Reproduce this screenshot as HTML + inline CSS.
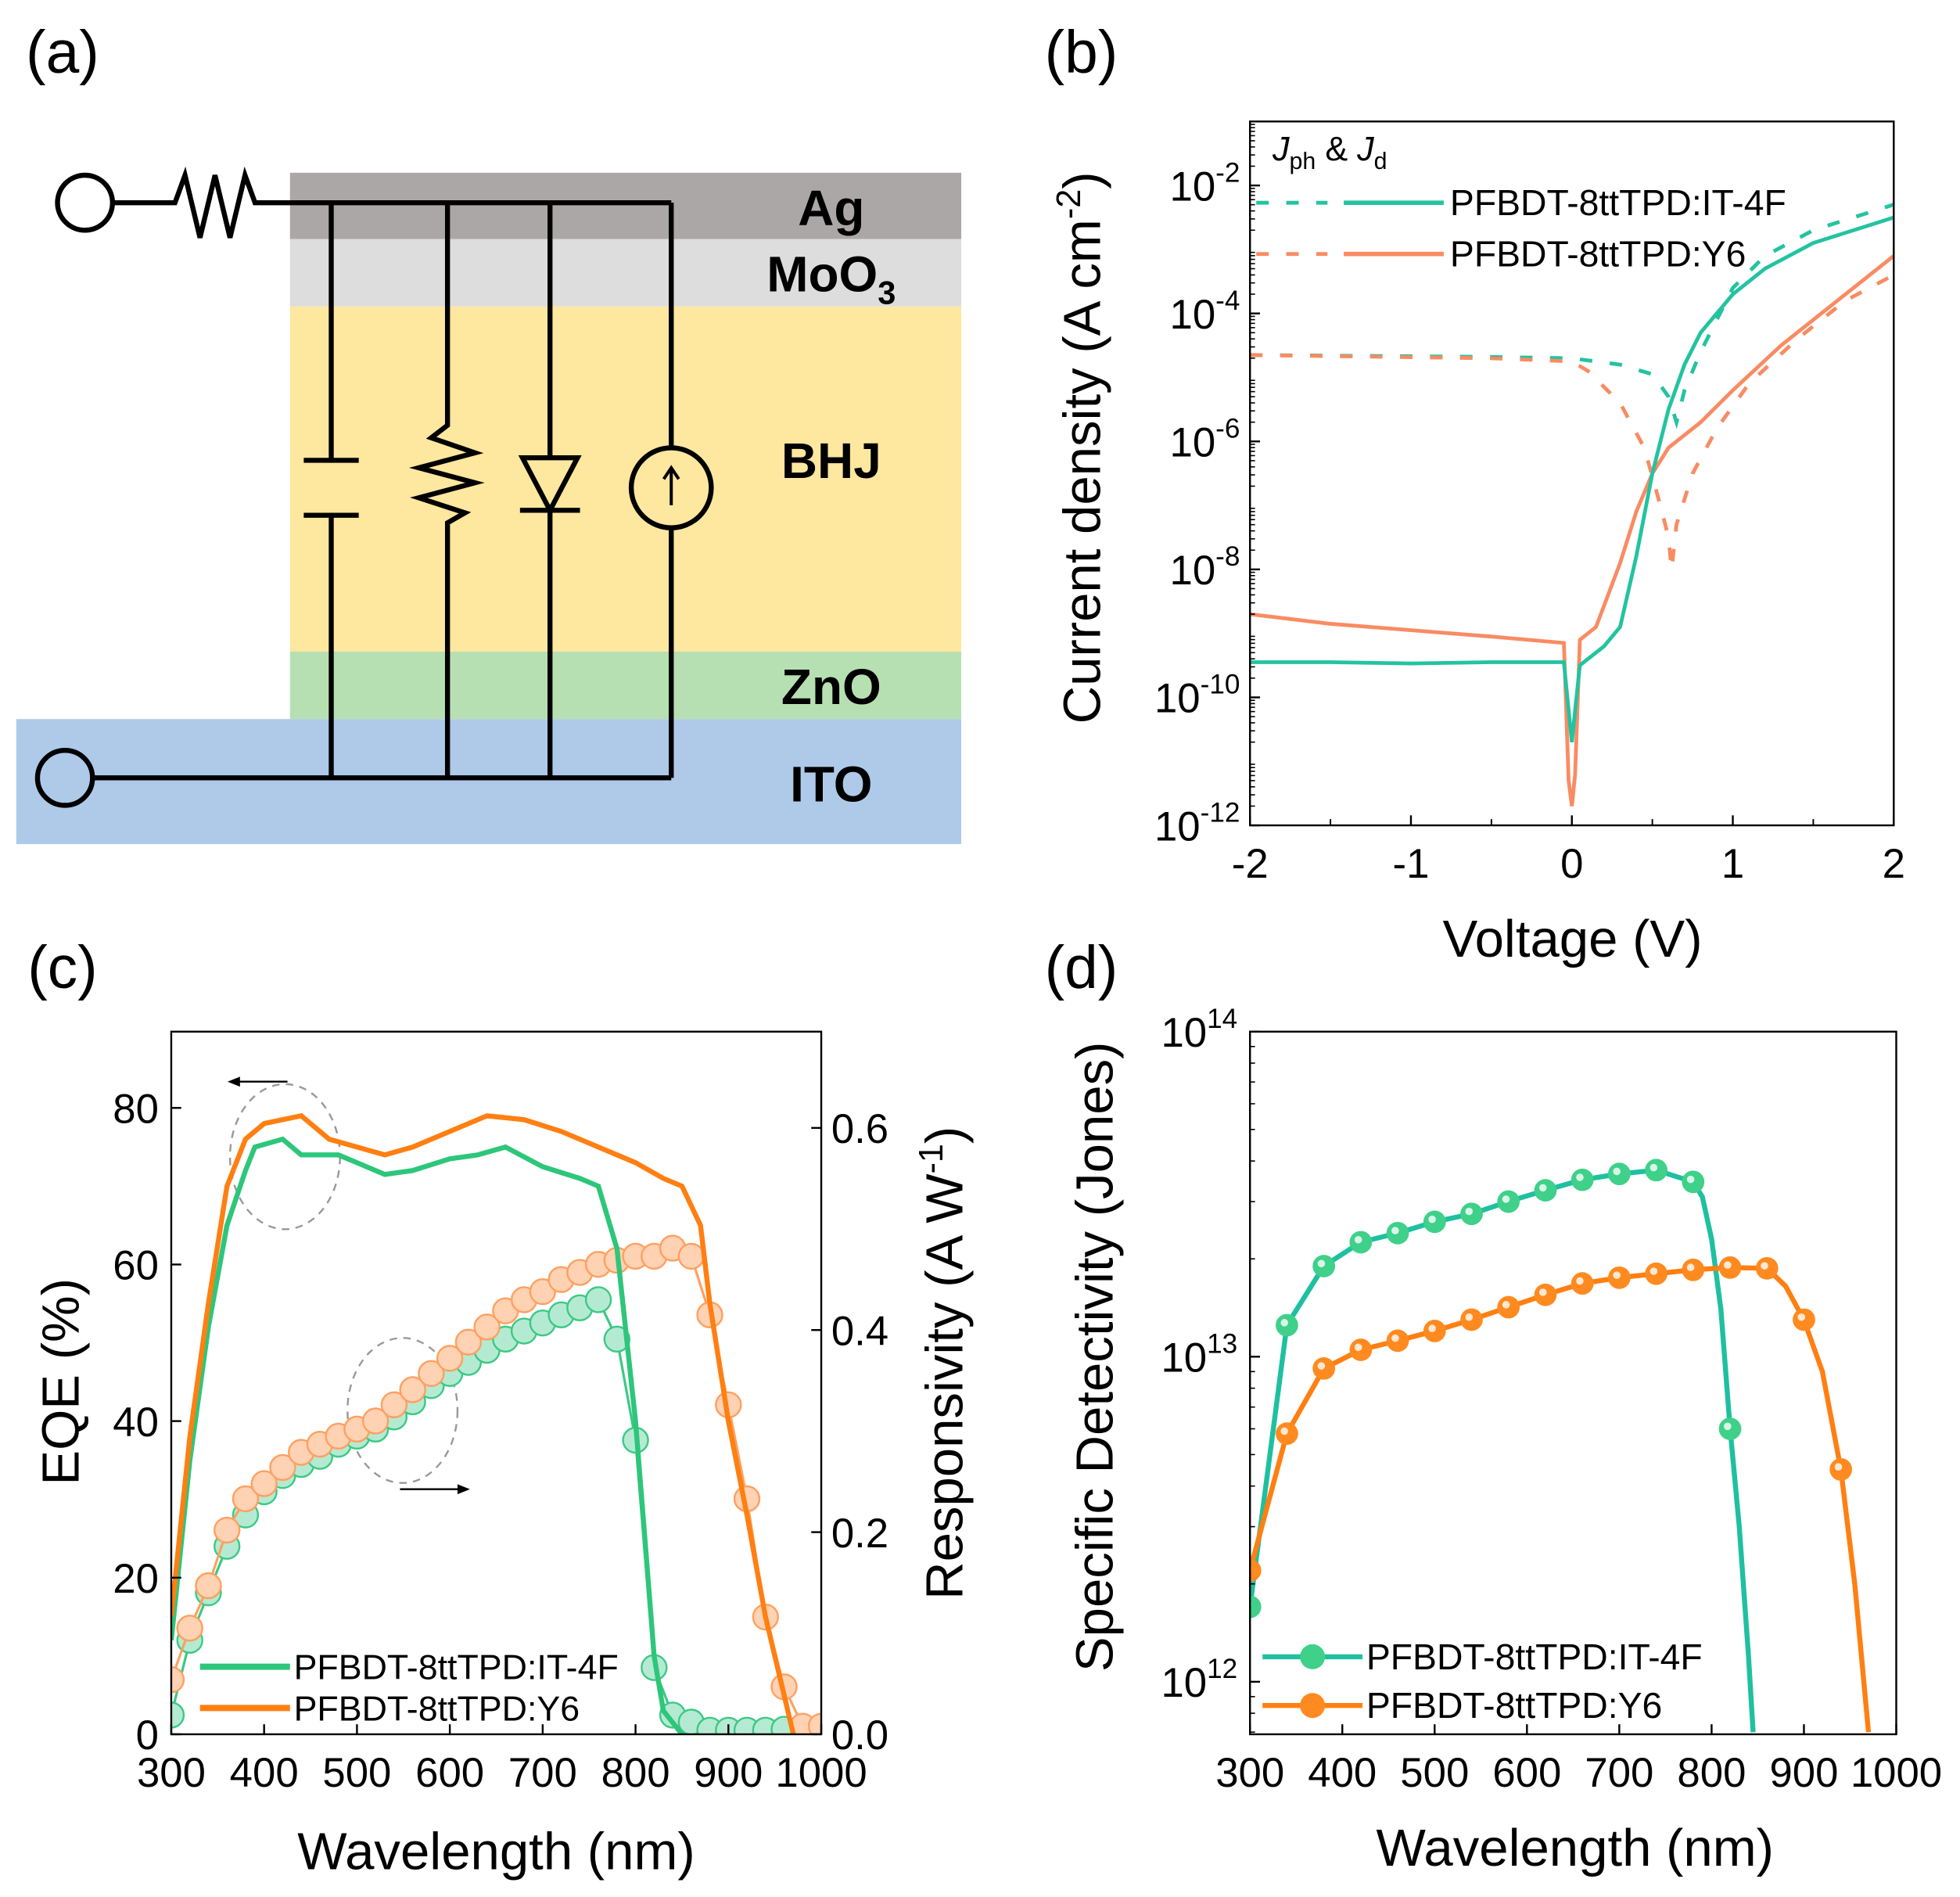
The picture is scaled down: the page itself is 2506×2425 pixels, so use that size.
<!DOCTYPE html>
<html><head><meta charset="utf-8"><style>
html,body{margin:0;padding:0;background:#fff}
svg{display:block;font-family:"Liberation Sans",Arial,sans-serif}
</style></head><body>
<svg id="fig" xmlns="http://www.w3.org/2000/svg" width="2506" height="2425" viewBox="0 0 1568 1517">
<rect width="1568" height="1517" fill="#fff"/>
<g>
<text x="50" y="58" font-size="48" text-anchor="middle">(a)</text>
<rect x="232" y="138" width="537" height="53" fill="#aca7a7"/>
<rect x="232" y="191" width="537" height="54" fill="#dddddd"/>
<rect x="232" y="245" width="537" height="276" fill="#fee79f"/>
<rect x="232" y="521" width="537" height="54" fill="#b7e0b2"/>
<rect x="13" y="575" width="756" height="100" fill="#afc9e9"/>
<g fill="none" stroke="#000" stroke-width="4">
<circle cx="68" cy="162" r="22"/>
<polyline points="90,162 140,162 148,140 160,190 172,140 184,190 196,140 204,162 537,162"/>
<circle cx="52" cy="622" r="22"/>
<line x1="74" y1="622" x2="537" y2="622"/>
<polyline points="265,162 265,368" /><polyline points="265,412 265,622"/>
<line x1="243" y1="368" x2="287" y2="368"/><line x1="243" y1="412" x2="287" y2="412"/>
<polyline points="358,162 358,340 345,350 380,362 335,374 380,386 335,398 372,410 358,418 358,622"/>
<line x1="440" y1="162" x2="440" y2="622"/>
<polygon points="418,366 462,366 440,408" fill="#fee79f"/><line x1="416" y1="408" x2="464" y2="408"/>
<line x1="537" y1="162" x2="537" y2="622"/>
<circle cx="537" cy="390" r="32" fill="#fee79f"/>
<line x1="537" y1="404" x2="537" y2="376" stroke-width="2.5"/><polyline points="531,383 537,374 543,383" stroke-width="2.5"/>
</g>
<g font-size="40" font-weight="bold" text-anchor="middle">
<text x="665" y="180">Ag</text>
<text x="665" y="233">MoO<tspan font-size="26" dy="10">3</tspan></text>
<text x="665" y="382">BHJ</text>
<text x="665" y="563">ZnO</text>
<text x="665" y="641">ITO</text>
</g>
</g>
<g id="pb"></g>
<g id="pc"></g>
<g id="pd"></g>
</svg>
<script>
const bV_it_dark=[-2,-1.5,-1,-0.5,-0.05,-0.02,0,0.02,0.05,0.2,0.3,0.4,0.5,0.6,0.7,0.8,1.0,1.2,1.5,2];
const bJ_it_dark=[-9.45,-9.45,-9.47,-9.45,-9.45,-10.2,-10.7,-10.2,-9.5,-9.2,-8.9,-7.8,-6.5,-5.5,-4.8,-4.3,-3.7,-3.3,-2.9,-2.5];
const bV_y6_dark=[-2,-1.5,-1,-0.5,-0.05,-0.02,0,0.02,0.05,0.15,0.3,0.4,0.5,0.6,0.8,1.0,1.3,1.6,2];
const bJ_y6_dark=[-8.7,-8.85,-8.95,-9.05,-9.15,-11.3,-11.7,-11.2,-9.1,-8.9,-7.9,-7.1,-6.5,-6.1,-5.7,-5.2,-4.5,-3.9,-3.1];
const bV_it_ph=[-2,-0.5,0,0.3,0.5,0.6,0.65,0.7,0.8,1.0,1.2,1.5,2];
const bJ_it_ph=[-4.65,-4.68,-4.7,-4.8,-4.95,-5.3,-5.7,-5.2,-4.6,-3.6,-3.1,-2.7,-2.3];
const bV_y6_ph=[-2,-0.5,0,0.1,0.3,0.45,0.55,0.6,0.62,0.65,0.75,0.9,1.1,1.4,1.7,2];
const bJ_y6_ph=[-4.65,-4.7,-4.75,-4.9,-5.4,-6.1,-7.0,-7.5,-8.0,-7.3,-6.5,-5.8,-5.1,-4.4,-3.8,-3.4];
const bXTicks=[-2,-1,0,1,2];
const bYTicks=[-12,-10,-8,-6,-4,-2];
const cWl_it=[300,320,340,360,380,390,420,440,480,500,530,560,600,630,660,700,740,760,780,800,810,820,830,850];
const cEqe_it=[12,35,52,65,72,75,76,74,74,73,71.5,72,73.5,74,75,72.5,71,70,62,40,25,10,3,0];
const cWl_y6=[300,320,340,360,380,400,440,470,500,530,560,600,640,680,720,760,800,830,850,870,880,900,920,940,960,970];
const cEqe_y6=[15,38,55,70,76,78,79,76,75,74,75,77,79,78.5,77,75,73,71,70,65,55,40,28,15,5,0];
const cRWl_it=[300,320,340,360,380,400,420,440,460,480,500,520,540,560,580,600,620,640,660,680,700,720,740,760,780,800,820,840,860,880,900,920,940,960];
const cResp_it=[0.019,0.093,0.14,0.186,0.217,0.24,0.256,0.267,0.275,0.287,0.295,0.302,0.314,0.329,0.345,0.357,0.368,0.38,0.391,0.399,0.407,0.415,0.422,0.43,0.391,0.291,0.066,0.019,0.012,0.004,0.004,0.004,0.004,0.005];
const cRWl_y6=[300,320,340,360,380,400,420,440,460,480,500,520,540,560,580,600,620,640,660,680,700,720,740,760,780,800,820,840,860,880,900,920,940,960,980,1000];
const cResp_y6=[0.054,0.105,0.147,0.202,0.233,0.248,0.264,0.279,0.287,0.295,0.302,0.31,0.326,0.341,0.357,0.372,0.388,0.403,0.419,0.43,0.438,0.45,0.457,0.465,0.469,0.473,0.473,0.481,0.473,0.415,0.326,0.233,0.116,0.047,0.008,0.008];
const cXTicks=[300,400,500,600,700,800,900,1000];
const cYTicks=[0,20,40,60,80];
const cRTicks=[0.0,0.2,0.4,0.6];
const dWl_it=[300,340,380,420,460,500,540,580,620,660,700,740,780,790,800,810,820,830,840,845];
const dD_it=[0.17,1.25,1.9,2.25,2.4,2.6,2.75,3.0,3.25,3.5,3.65,3.75,3.45,3.1,2.3,1.4,0.6,0.3,0.12,0.07];
const dMk_it=[300,340,380,420,460,500,540,580,620,660,700,740,780,820];
const dMkD_it=[0.17,1.25,1.9,2.25,2.4,2.6,2.75,3.0,3.25,3.5,3.65,3.75,3.45,0.6];
const dWl_y6=[300,340,380,420,460,500,540,580,620,660,700,740,780,820,860,880,900,920,940,955,970];
const dD_y6=[0.22,0.58,0.92,1.05,1.12,1.2,1.3,1.42,1.55,1.68,1.75,1.8,1.85,1.88,1.87,1.65,1.3,0.9,0.45,0.2,0.07];
const dMk_y6=[300,340,380,420,460,500,540,580,620,660,700,740,780,820,860,900,940];
const dMkD_y6=[0.22,0.58,0.92,1.05,1.12,1.2,1.3,1.42,1.55,1.68,1.75,1.8,1.85,1.88,1.87,1.3,0.45];
const dXTicks=[300,400,500,600,700,800,900,1000];
const dYTicks=[12,13,14];

const TF=33, AF=42;
const NS="http://www.w3.org/2000/svg";
function mk(parent,tag,attrs){const e=document.createElementNS(NS,tag);for(const k in attrs)e.setAttribute(k,attrs[k]);parent.appendChild(e);return e;}
function pathD(xs,ys,fx,fy){return xs.map((x,i)=>(i?'L':'M')+fx(x).toFixed(1)+','+fy(ys[i]).toFixed(1)).join('');}

(function(){
const g=document.getElementById('pb');
const L=1000,R=1515,T=97,B=660;
const fx=v=>L+(v+2)/4*(R-L);
const fy=l=>B-(l+12)/11*(B-T);
let t=mk(g,'text',{x:865,y:58,'font-size':48,'text-anchor':'middle'});t.textContent='(b)';


const cl=mk(g,'clipPath',{id:'cb'});mk(cl,'rect',{x:L,y:T,width:R-L,height:B-T});
const series=[[bV_it_ph,bJ_it_ph,'#23c3a0','10,14','photo-current-it4f'],[bV_y6_ph,bJ_y6_ph,'#f98b63','10,14','photo-current-y6'],[bV_y6_dark,bJ_y6_dark,'#f98b63','','dark-current-y6'],[bV_it_dark,bJ_it_dark,'#23c3a0','','dark-current-it4f']];
series.forEach(s=>{const p=mk(g,'path',{d:pathD(s[0],s[1],fx,fy),fill:'none',stroke:s[2],'stroke-width':3,'stroke-dasharray':s[3],'clip-path':'url(#cb)'});

});
mk(g,'rect',{x:L,y:T,width:R-L,height:B-T,fill:'none',stroke:'#000','stroke-width':1.5});
bXTicks.forEach(v=>{mk(g,'line',{x1:fx(v),y1:B,x2:fx(v),y2:B-8,stroke:'#000','stroke-width':1.5});
const tx=mk(g,'text',{x:fx(v),y:B+42,'font-size':TF,'text-anchor':'middle'});tx.textContent=v;

});
for(let v=-1.5;v<2;v+=1)mk(g,'line',{x1:fx(v),y1:B,x2:fx(v),y2:B-5,stroke:'#000','stroke-width':1.2});
for(let d=-12;d<-1;d++){for(let m=2;m<10;m++){const y=fy(d+Math.log10(m));mk(g,'line',{x1:L,y1:y,x2:L+4,y2:y,stroke:'#000','stroke-width':1});}}
bYTicks.forEach(v=>{mk(g,'line',{x1:L,y1:fy(v),x2:L+8,y2:fy(v),stroke:'#000','stroke-width':1.5});
const tx=mk(g,'text',{x:L-8,y:fy(v)+12,'font-size':TF,'text-anchor':'end'});tx.innerHTML='10<tspan font-size="22" dy="-15">'+v+'</tspan>';

});
let xt=mk(g,'text',{x:1258,y:765,'font-size':AF,'text-anchor':'middle'});xt.textContent='Voltage (V)';


let yt=mk(g,'text',{x:0,y:0,'font-size':AF,'text-anchor':'middle',transform:'translate(880,358) rotate(-90)'});yt.innerHTML='Current density (A cm<tspan font-size="27" dy="-16">-2</tspan><tspan dy="16">)</tspan>';


let jt=mk(g,'text',{x:1018,y:128,'font-size':27});jt.innerHTML='<tspan font-style="italic">J</tspan><tspan font-size="19" dy="7">ph</tspan><tspan dy="-7"> &amp; </tspan><tspan font-style="italic">J</tspan><tspan font-size="19" dy="7">d</tspan>';


[['#23c3a0',162,'PFBDT-8ttTPD:IT-4F'],['#f98b63',203,'PFBDT-8ttTPD:Y6']].forEach(e=>{
const lg=mk(g,'g',{});


mk(lg,'line',{x1:1005,y1:e[1],x2:1062,y2:e[1],stroke:e[0],'stroke-width':3,'stroke-dasharray':'10,14'});
mk(lg,'line',{x1:1075,y1:e[1],x2:1155,y2:e[1],stroke:e[0],'stroke-width':3.5});
const tx=mk(lg,'text',{x:1160,y:e[1]+10,'font-size':29});tx.textContent=e[2];});
})();

(function(){
const g=document.getElementById('pc');
const L=137,R=657,T=825,B=1387;
const fx=w=>L+(w-300)/700*(R-L);
const fy=e=>B-e*(B-886)/80;
const fr=r=>B-r*(B-902)/0.6;
let t=mk(g,'text',{x:50,y:790,'font-size':48,'text-anchor':'middle'});t.textContent='(c)';


const cl=mk(g,'clipPath',{id:'cc'});mk(cl,'rect',{x:L,y:T,width:R-L,height:B-T});
mk(g,'ellipse',{cx:228,cy:925,rx:44,ry:58,fill:'none',stroke:'#999','stroke-width':1.5,'stroke-dasharray':'6,5'});
mk(g,'ellipse',{cx:322,cy:1128,rx:44,ry:58,fill:'none',stroke:'#999','stroke-width':1.5,'stroke-dasharray':'6,5'});
mk(g,'line',{x1:230,y1:865,x2:188,y2:865,stroke:'#000','stroke-width':1.5});mk(g,'polygon',{points:'182,865 192,861 192,869',fill:'#000'});
mk(g,'line',{x1:320,y1:1191,x2:370,y2:1191,stroke:'#000','stroke-width':1.5});mk(g,'polygon',{points:'376,1191 366,1187 366,1195',fill:'#000'});
[[cRWl_it,cResp_it,'#3cc985','#b5ead2','resp-marker-it4f'],[cRWl_y6,cResp_y6,'#ffa060','#ffd2b4','resp-marker-y6']].forEach(s=>{
const xs=s[0];
mk(g,'path',{d:pathD(xs,s[1],fx,fr),fill:'none',stroke:s[2],'stroke-width':2,'clip-path':'url(#cc)'});
xs.forEach((w,i)=>{const c=mk(g,'circle',{cx:fx(w),cy:fr(s[1][i]),r:10,fill:s[3],stroke:s[2],'stroke-width':1.5,'clip-path':'url(#cc)'});

});});
[[cWl_it,cEqe_it,'#2ec67a','eqe-line-it4f'],[cWl_y6,cEqe_y6,'#ff7f12','eqe-line-y6']].forEach(s=>{
const p=mk(g,'path',{d:pathD(s[0],s[1],fx,fy),fill:'none',stroke:s[2],'stroke-width':4,'clip-path':'url(#cc)'});

});
mk(g,'rect',{x:L,y:T,width:R-L,height:B-T,fill:'none',stroke:'#000','stroke-width':1.5});
cXTicks.forEach(v=>{mk(g,'line',{x1:fx(v),y1:B,x2:fx(v),y2:B-8,stroke:'#000','stroke-width':1.5});
const tx=mk(g,'text',{x:fx(v),y:B+42,'font-size':TF,'text-anchor':'middle'});tx.textContent=v;

});
cYTicks.forEach(v=>{mk(g,'line',{x1:L,y1:fy(v),x2:L+8,y2:fy(v),stroke:'#000','stroke-width':1.5});
const tx=mk(g,'text',{x:L-10,y:fy(v)+12,'font-size':TF,'text-anchor':'end'});tx.textContent=v;

});
cRTicks.forEach(v=>{mk(g,'line',{x1:R,y1:fr(v),x2:R-8,y2:fr(v),stroke:'#000','stroke-width':1.5});
const tx=mk(g,'text',{x:R+8,y:fr(v)+12,'font-size':TF});tx.textContent=v.toFixed(1);

});
let xt=mk(g,'text',{x:397,y:1495,'font-size':AF,'text-anchor':'middle'});xt.textContent='Wavelength (nm)';


let yt=mk(g,'text',{x:0,y:0,'font-size':AF,'text-anchor':'middle',transform:'translate(63,1105) rotate(-90)'});yt.textContent='EQE (%)';


let rt=mk(g,'text',{x:0,y:0,'font-size':AF,'text-anchor':'middle',transform:'translate(770,1090) rotate(-90)'});rt.innerHTML='Responsivity (A W<tspan font-size="27" dy="-16">-1</tspan><tspan dy="16">)</tspan>';


[['#2ec67a',1333,'PFBDT-8ttTPD:IT-4F'],['#ff7f12',1366,'PFBDT-8ttTPD:Y6']].forEach(e=>{
const lg=mk(g,'g',{});


mk(lg,'line',{x1:160,y1:e[1],x2:232,y2:e[1],stroke:e[0],'stroke-width':5});
const tx=mk(lg,'text',{x:235,y:e[1]+10,'font-size':28});tx.textContent=e[2];});
})();

(function(){
const g=document.getElementById('pd');
const L=1000,R=1517,T=825,B=1387;
const fx=w=>L+(w-300)/700*(R-L);
const fy=d=>1085-(Math.log10(d*1e13)-13)*260;
let t=mk(g,'text',{x:865,y:790,'font-size':48,'text-anchor':'middle'});t.textContent='(d)';


const cl=mk(g,'clipPath',{id:'cd'});mk(cl,'rect',{x:L,y:T,width:R-L,height:B-T});
[[dWl_it,dD_it,dMk_it,dMkD_it,'#1fc0a0','#3fd08a','detectivity-it4f'],[dWl_y6,dD_y6,dMk_y6,dMkD_y6,'#ff7f12','#ff8a20','detectivity-y6']].forEach(s=>{
const p=mk(g,'path',{d:pathD(s[0],s[1],fx,fy),fill:'none',stroke:s[4],'stroke-width':4,'clip-path':'url(#cd)'});


s[2].forEach((w,i)=>{const c=mk(g,'circle',{cx:fx(w),cy:fy(s[3][i]),r:9,fill:s[5],'clip-path':'url(#cd)'});


mk(g,'circle',{cx:fx(w)-2,cy:fy(s[3][i])-2,r:3,fill:'#fff',opacity:0.8,'clip-path':'url(#cd)'});});});
mk(g,'rect',{x:L,y:T,width:R-L,height:B-T,fill:'none',stroke:'#000','stroke-width':1.5});
dXTicks.forEach(v=>{mk(g,'line',{x1:fx(v),y1:B,x2:fx(v),y2:B-8,stroke:'#000','stroke-width':1.5});
const tx=mk(g,'text',{x:fx(v),y:B+42,'font-size':TF,'text-anchor':'middle'});tx.textContent=v;

});
for(let d=11;d<14;d++){for(let m=2;m<10;m++){const y=1085-(d+Math.log10(m)-13)*260;if(y>T&&y<B)mk(g,'line',{x1:L,y1:y,x2:L+4,y2:y,stroke:'#000','stroke-width':1});}}
dYTicks.forEach(v=>{const y=1085-(v-13)*260;mk(g,'line',{x1:L,y1:y,x2:L+8,y2:y,stroke:'#000','stroke-width':1.5});
const tx=mk(g,'text',{x:L-10,y:y+12,'font-size':TF,'text-anchor':'end'});tx.innerHTML='10<tspan font-size="22" dy="-15">'+v+'</tspan>';

});
let xt=mk(g,'text',{x:1260,y:1492,'font-size':AF,'text-anchor':'middle'});xt.textContent='Wavelength (nm)';


let yt=mk(g,'text',{x:0,y:0,'font-size':AF,'text-anchor':'middle',transform:'translate(890,1085) rotate(-90)'});yt.textContent='Specific Detectivity (Jones)';


[['#1fc0a0','#3fd08a',1325,'PFBDT-8ttTPD:IT-4F'],['#ff7f12','#ff8a20',1364,'PFBDT-8ttTPD:Y6']].forEach(e=>{
const lg=mk(g,'g',{});


mk(lg,'line',{x1:1010,y1:e[2],x2:1090,y2:e[2],stroke:e[0],'stroke-width':4});
mk(lg,'circle',{cx:1050,cy:e[2],r:10,fill:e[1]});
const tx=mk(lg,'text',{x:1093,y:e[2]+10,'font-size':29});tx.textContent=e[3];});
})();
</script>
</body></html>
